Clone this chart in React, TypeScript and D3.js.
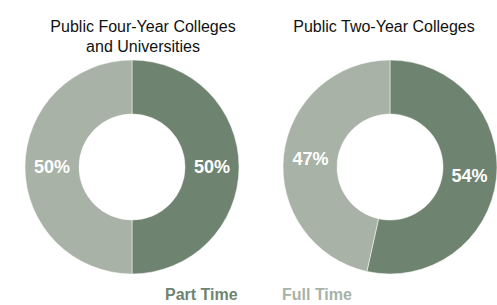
import React from "react";
import * as d3 from "d3";

const W = 497;
const H = 305;

const categories = ["Part Time", "Full Time"];
const chartTitles = [["Public Four-Year Colleges", "and Universities"], ["Public Two-Year Colleges"]];
const fourYearValues = [50, 50];
const twoYearValues = [54, 47];
const colors = ["#6f8470", "#a8b2a6"];

const FONT = "'Liberation Sans', Arial, Helvetica, sans-serif";

function Donut({ cx, cy, values, title, titleX }: { cx: number; cy: number; values: number[]; title: string[]; titleX: number }) {
  const outer = 107;
  const inner = 53;
  const pie = d3.pie<number>().sort(null).value((d) => d);
  const arcs = pie(values);
  const arc = d3.arc<d3.PieArcDatum<number>>().innerRadius(inner).outerRadius(outer);
  const labelArc = d3.arc<d3.PieArcDatum<number>>().innerRadius(80).outerRadius(80);
  return (
    <g>
      {title.map((t, i) => (
        <text key={i} x={titleX} y={32 + i * 20} textAnchor="middle" fontFamily={FONT} fontSize={16} fill="#111">
          {t}
        </text>
      ))}
      <g transform={`translate(${cx},${cy})`}>
        {arcs.map((a, i) => (
          <path key={i} d={arc(a) || ""} fill={colors[i]} stroke="#fff" strokeWidth={0.5} />
        ))}
        {arcs.map((a, i) => {
          const [x, y] = labelArc.centroid(a);
          return (
            <text key={"l" + i} x={x} y={y} dy="0.36em" textAnchor="middle" fontFamily={FONT} fontWeight="bold" fontSize={18} fill="#fff">
              {values[i]}%
            </text>
          );
        })}
      </g>
    </g>
  );
}

export default function App() {
  const legendX = [165, 282];
  return (
    <svg width={W} height={H} style={{ position: "absolute", left: 0, top: 0, background: "#fff" }}>
      <Donut cx={132} cy={167} values={fourYearValues} title={chartTitles[0]} titleX={143} />
      <Donut cx={390} cy={167} values={twoYearValues} title={chartTitles[1]} titleX={384} />
      {categories.map((c, i) => (
        <text key={c} x={legendX[i]} y={300} fontFamily={FONT} fontWeight="bold" fontSize={16} fill={colors[i]}>
          {c}
        </text>
      ))}
    </svg>
  );
}
